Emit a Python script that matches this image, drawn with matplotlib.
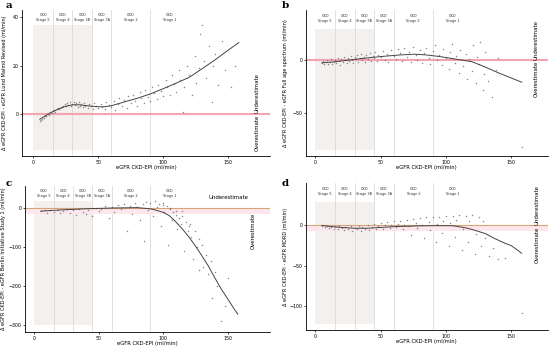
import matplotlib.pyplot as plt

# CKD stage boundaries and labels (shared by all panels)
stage_bounds = [15, 30, 45, 60, 90]
stage_centers = [7.5, 22.5, 37.5, 52.5, 75, 105]
stage_names = ["CKD\nStage 5", "CKD\nStage 4", "CKD\nStage 3B", "CKD\nStage 3A", "CKD\nStage 2", "CKD\nStage 1"]

# panel a: CKD-EPI vs Lund Malmo Revised
a_curve_x = [5, 10, 15, 20, 25, 30, 35, 40, 45, 50, 55, 60, 70, 80, 90, 100, 110, 120, 130, 140, 150, 158]
a_curve_y = [-2.2, -0.5, 1, 2.2, 3.2, 3.8, 3.8, 3.5, 3.2, 3.0, 3.0, 3.4, 5, 6.5, 8.3, 10.5, 12.8, 15.2, 18.8, 22.5, 26.5, 29.5]
a_pts_x = [5, 6, 7, 8, 9, 10, 11, 12, 13, 14, 15, 16, 17, 18, 19, 20, 21, 22, 23, 24, 25, 26, 27, 28, 29, 30,
           31, 32, 33, 34, 35, 36, 37, 38, 39, 40, 42, 43, 44, 46, 47, 48, 50, 52, 53, 55, 56, 58, 60, 62, 63,
           65, 66, 68, 70, 72, 73, 75, 77, 78, 80, 82, 83, 85, 86, 88, 90, 91, 93, 95, 96, 98, 100, 102, 103,
           105, 107, 108, 110, 112, 113, 115, 116, 118, 120, 122, 124, 125, 127, 128, 130, 131, 133, 135, 137,
           138, 140, 142, 145, 147, 152, 155]
a_pts_y = [-3, -2.5, -2, -1.8, -1, -0.8, 0, -0.3, 0.8, 0.5, 1.2, 1.5, 1, 2.2, 2.5, 2, 3, 2.8, 3.5, 4, 3.2, 4.5,
           3.8, 4.8, 3.5, 4.2, 5, 3.6, 4.4, 3, 4.8, 3.5, 4.2, 2.8, 4.5, 3.3, 2.5, 4, 3.2, 2.2, 4.5, 3.5, 2.4, 4.2,
           3, 2.2, 5, 3.8, 2.8, 5.5, 1.5, 4.2, 6.5, 3.5, 5.8, 2.5, 7.5, 4.5, 8, 5.5, 3.5, 9, 6.5, 4.5, 10, 7, 5.5,
           11, 8.5, 6, 12, 9.5, 7.5, 14, 11, 8, 16, 12.5, 9, 18, 14, 1, 11, 20, 16, 8, 24, 13, 19, 33, 37, 22, 15,
           28, 5, 20, 25, 12, 30, 18, 11, 20]

# panel b: CKD-EPI vs Full age spectrum
b_curve_x = [5, 15, 25, 35, 45, 55, 65, 76, 85, 95, 105, 115, 120, 130, 140, 150, 158]
b_curve_y = [-2.5, -1.5, 0, 1.5, 2.8, 4, 5, 5.7, 5, 3.5, 1.5, -0.5, -1.5, -6.5, -12, -17, -21]
b_pts_x = [5, 6, 7, 8, 9, 10, 11, 12, 13, 14, 15, 16, 17, 18, 19, 20, 21, 22, 23, 24, 25, 26, 27, 28, 29, 30,
           31, 32, 33, 34, 35, 36, 37, 38, 39, 40, 42, 43, 44, 45, 46, 47, 48, 50, 52, 53, 55, 56, 58, 60, 62,
           63, 65, 66, 68, 70, 72, 73, 75, 77, 78, 80, 82, 83, 85, 87, 88, 90, 92, 93, 95, 97, 98, 100, 102,
           103, 105, 107, 108, 110, 111, 113, 115, 116, 118, 120, 121, 123, 124, 125, 126, 128, 129, 130, 132,
           135, 138, 140, 158]
b_pts_y = [-3, -1, -4, -2, 0, -3.5, -1.5, 1, -4, -2, 0.5, -3, 2, -1, -4.5, 1.5, -2, 3, 0, -3, 2.5, -1, 4, 0.5,
           -2.5, 3.5, 1, 5, -1.5, 2.5, 6, 0, 3.5, -2, 5, 1.5, 7, -1, 4, 2, 8, -0.5, 5, 3, 9, 0, 6, -2, 10, 4, 1,
           11, 7, -1, 12, 3, 8, -2, 13, 5, 0, 10, -3, 7, 12, 2, -4, 9, 14, 0, 5, -5, 11, 2, -8, 8, 15, -3, 4, -12,
           10, -6, 6, -18, 1, -10, 14, -22, 3, -4, 17, -28, -13, 8, -20, -35, -9, 2, -83]

# panel c: CKD-EPI vs Berlin Initiative Study 1
c_curve_x = [5, 20, 40, 60, 80, 90, 95, 100, 105, 110, 115, 120, 125, 130, 135, 140, 145, 150, 155, 158]
c_curve_y = [-8, -5, -2, 0, 1, -2, -6, -11, -20, -36, -54, -74, -97, -122, -148, -178, -207, -232, -258, -272]
c_pts_x = [5, 8, 10, 12, 15, 18, 20, 22, 25, 28, 30, 32, 35, 38, 40, 42, 45, 48, 50, 52, 55, 58, 60, 62, 65,
           67, 70, 72, 74, 76, 78, 80, 82, 84, 85, 87, 88, 90, 92, 94, 95, 97, 98, 100, 101, 103, 104, 105,
           107, 108, 110, 111, 112, 114, 115, 116, 118, 119, 120, 122, 123, 125, 126, 128, 130, 131, 133, 135,
           137, 140, 142, 145, 148, 150, 138, 128, 100, 105, 110, 115, 121]
c_pts_y = [-8, -5, -12, -6, -10, -4, -14, -7, -3, -12, -6, -18, -2, -9, -15, -4, -20, 0, -8, -3, 5, -25, 3,
           -10, 8, -2, 10, -60, 5, -15, 12, 2, -30, 9, -85, 15, -5, 12, -20, 18, 3, 10, -45, 14, -10, 5, -95,
           -2, -30, -10, -18, -55, -25, -40, -8, -110, -35, -60, -45, -75, -130, -60, -100, -80, -95, -150,
           -120, -170, -135, -165, -200, -290, -250, -180, -230, -160, 8, 0, -8, -20, -40]

# panel d: CKD-EPI vs MDRD
d_curve_x = [5, 10, 20, 30, 40, 50, 60, 70, 80, 90, 100, 106, 115, 120, 130, 137, 145, 150, 158]
d_curve_y = [0, -1, -2.5, -3.5, -3.5, -2.5, -1.5, -1, -0.5, -0.3, -0.3, -0.5, -3, -5, -10, -16, -22, -25, -34.5]
d_pts_x = [5, 7, 9, 10, 12, 14, 15, 17, 18, 20, 22, 23, 25, 27, 28, 30, 32, 33, 35, 36, 38, 40, 41, 43, 45,
           46, 48, 50, 52, 53, 55, 57, 58, 60, 62, 63, 65, 67, 68, 70, 72, 73, 75, 77, 78, 80, 82, 83, 85, 87,
           88, 90, 92, 93, 95, 97, 98, 100, 102, 103, 105, 107, 108, 110, 112, 113, 115, 117, 118, 120, 122,
           123, 125, 127, 128, 130, 133, 136, 140, 145, 158]
d_pts_y = [-1, -2, -0.5, -3, -1.5, -4, -2, -5, -1, -3.5, -6, -2, -4.5, -1, -6.5, -3, -5, -0.5, -7, -2.5, -4,
           0.5, -6, -2, 2, -5, -1, 3, -4, 0, 4, -3, 1, 5, -2, 2, 6, -5, 1, 7, -1, -12, 8, 3, -3, 9, 0, -15, 10,
           4, -6, 10, -20, 2, 11, -9, 6, 12, -25, 3, 12, -14, 7, 13, -30, -5, 12, -20, 5, 13, -35, -10, 10,
           -25, 6, -15, -38, -28, -42, -40, -109]

panels = [
    ("a", a_pts_x, a_pts_y, a_curve_x, a_curve_y, "Lund Malmö Revised"),
    ("b", b_pts_x, b_pts_y, b_curve_x, b_curve_y, "Full age spectrum"),
    ("c", c_pts_x, c_pts_y, c_curve_x, c_curve_y, "Berlin Initiative Study 1"),
    ("d", d_pts_x, d_pts_y, d_curve_x, d_curve_y, "MDRD"),
]

# layout / per-panel styling
rects = [[0.040, 0.549, 0.451, 0.422], [0.556, 0.549, 0.440, 0.422],
         [0.046, 0.040, 0.445, 0.422], [0.556, 0.046, 0.440, 0.425]]
xlims = [(-8.7, 182), (-7.3, 178), (-7.0, 183), (-7.4, 178)]
ylims = [(-17.4, 43), (-91.4, 47.8), (-318, 56), (-129.8, 52.6)]
yticks = [[0, 20, 40], [-50, 0], [-300, -200, -100, 0], [-100, -50, 0]]
shade = [(-15, 37), (-86, 30), (-300, 18), (-122, 29)]
label_y = [40, 40, 38, 42]
under_pos = [(172, 8.7, 90), (169, 19, 90), (151, 28, 0), (170, 25.6, 90)]
over_pos = [(172, -8, 90), (169, -17.5, 90), (170, -59, 90), (170, -24, 90)]
zero_color = ["#f4a3b2", "#f4a3b2", "#d9a47a", "#d9a47a"]
band = [None, None, -15, -7.5]
ylabel_x = [-0.062, -0.072, -0.078, -0.072]
letter_xy = [(0.010, 0.998), (0.512, 0.998), (0.010, 0.482), (0.512, 0.482)]

fig = plt.figure(figsize=(5.5, 3.46), dpi=100)

for i, (letter, px, py, cx, cy, name) in enumerate(panels):
    ax = fig.add_axes(rects[i])
    ax.set_xlim(*xlims[i])
    ax.set_ylim(*ylims[i])
    lo, hi = shade[i]
    ax.fill_between([0, 45], lo, hi, color="#f4f0ed", lw=0, zorder=0)
    for b in stage_bounds:
        ax.axvline(b, color="#d4d4d4", lw=0.5, zorder=1)
    for xc, nm in zip(stage_centers, stage_names):
        ax.text(xc, label_y[i], nm, fontsize=2.5, ha="center", va="center", color="#333333",
                linespacing=1.3)
    if band[i] is not None:
        ax.axhspan(band[i], 0, color="#fde6ec", lw=0, zorder=1)
        ax.axhline(0, color=zero_color[i], lw=0.8, zorder=2)
    else:
        ax.axhline(0, color=zero_color[i], lw=1.5, zorder=2)
    ax.scatter(px, py, s=1.2, color="#707070", alpha=0.8, lw=0, zorder=3)
    ax.plot(cx, cy, color="#444444", lw=0.7, zorder=4)

    ux, uy, ur = under_pos[i]
    ax.text(ux, uy, "Underestimate", fontsize=3.9, rotation=ur, ha="center", va="center")
    ox, oy, orr = over_pos[i]
    ax.text(ox, oy, "Overestimate", fontsize=3.9, rotation=orr, ha="center", va="center")

    ax.set_xticks([0, 50, 100, 150])
    ax.set_yticks(yticks[i])
    ax.tick_params(labelsize=3.4, length=1.5, width=0.5, pad=1)
    for s in ["top", "right"]:
        ax.spines[s].set_visible(False)
    for s in ["left", "bottom"]:
        ax.spines[s].set_linewidth(0.6)
    ax.set_xlabel("eGFR CKD-EPI (ml/min)", fontsize=3.8, labelpad=0.5)
    ax.set_ylabel("Δ eGFR CKD-EPI - eGFR " + name + " (ml/min)", fontsize=3.6)
    ax.yaxis.set_label_coords(ylabel_x[i], 0.5)
    fig.text(letter_xy[i][0], letter_xy[i][1], letter, fontsize=7.5, fontweight="bold",
             family="DejaVu Serif", va="top")

fig.savefig("out.png", dpi=100)
